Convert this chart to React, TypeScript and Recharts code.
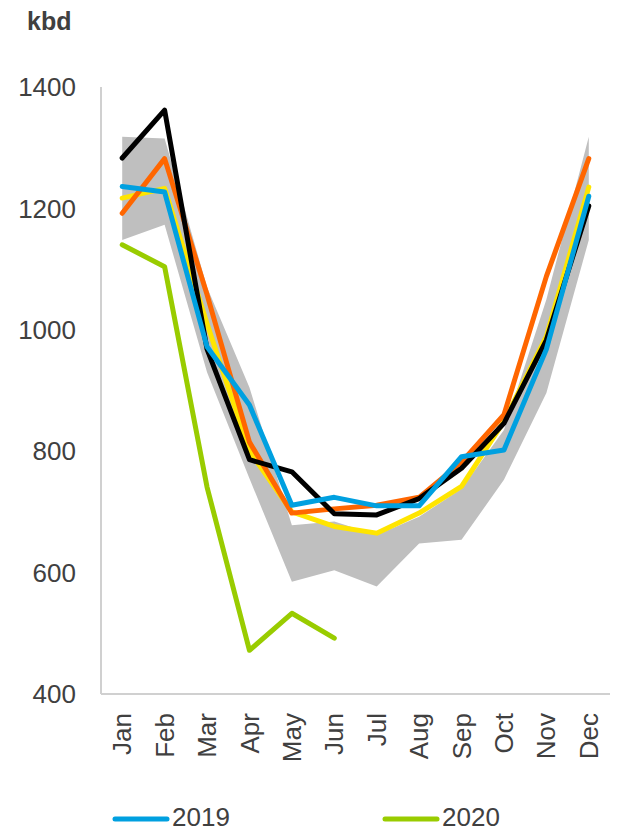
import React from "react";
import { ComposedChart, Area, Line, XAxis, YAxis } from "recharts";

const months = ["Jan", "Feb", "Mar", "Apr", "May", "Jun", "Jul", "Aug", "Sep", "Oct", "Nov", "Dec"];

// 5-year range (grey band)
const rangeLow = [1148, 1173, 930, 755, 585, 604, 577, 648, 654, 753, 896, 1148];
const rangeHigh = [1318, 1315, 1070, 905, 678, 684, 662, 692, 738, 835, 1050, 1318];

const y2016 = [1217, 1233, 1010, 800, 700, 676, 665, 698, 742, 849, 989, 1235];
const y2017 = [1192, 1282, 1058, 815, 698, 705, 711, 724, 782, 860, 1088, 1282];
const y2018 = [1283, 1362, 968, 786, 766, 697, 695, 722, 772, 846, 983, 1204];
const y2019 = [1236, 1227, 972, 876, 711, 724, 710, 710, 791, 802, 968, 1220];
const y2020 = [1140, 1104, 741, 472, 533, 492];

const yTicks = [400, 600, 800, 1000, 1200, 1400];
const legendLabels = ["2019", "2020"];

const C = {
  range: "#bfbfbf",
  y2016: "#ffe500",
  y2017: "#ff6600",
  y2018: "#000000",
  y2019: "#00a0e0",
  y2020: "#99cc00",
  axis: "#d0d0d0",
  text: "#404040",
};

const FONT = "'Liberation Sans', Arial, sans-serif";

const data = months.map((m, i) => ({
  month: m,
  range: [rangeLow[i], rangeHigh[i]],
  y2016: y2016[i],
  y2017: y2017[i],
  y2018: y2018[i],
  y2019: y2019[i],
  y2020: y2020[i] ?? null,
}));

function MonthTick({ x, y, payload }: any) {
  return (
    <text
      x={x}
      y={y}
      dy="0.35em"
      transform={`rotate(-90, ${x}, ${y})`}
      textAnchor="end"
      fontSize={26}
      fill={C.text}
      fontFamily={FONT}
    >
      {payload.value}
    </text>
  );
}

export default function App() {
  const lineProps = {
    type: "linear" as const,
    strokeWidth: 5,
    dot: false,
    activeDot: false,
    isAnimationActive: false,
    strokeLinejoin: "round" as const,
    strokeLinecap: "round" as const,
  };

  return (
    <div style={{ position: "absolute", left: 0, top: 0, width: 618, height: 833, background: "#fff" }}>
      <ComposedChart
        width={618}
        height={833}
        data={data}
        margin={{ top: 87, right: 8, bottom: 39, left: 0 }}
      >
        <XAxis
          dataKey="month"
          scale="band"
          axisLine={{ stroke: C.axis, strokeWidth: 2 }}
          tickLine={false}
          tickSize={0}
          tickMargin={19}
          interval={0}
          height={100}
          tick={<MonthTick />}
        />
        <YAxis
          domain={[400, 1400]}
          ticks={yTicks}
          axisLine={{ stroke: C.axis, strokeWidth: 2 }}
          tickLine={false}
          tickSize={0}
          tickMargin={25}
          width={101}
          tick={{ fontSize: 26, fill: C.text, fontFamily: FONT }}
        />
        <Area
          dataKey="range"
          fill={C.range}
          fillOpacity={1}
          stroke="none"
          isAnimationActive={false}
          activeDot={false}
        />
        <Line dataKey="y2016" stroke={C.y2016} {...lineProps} />
        <Line dataKey="y2017" stroke={C.y2017} {...lineProps} />
        <Line dataKey="y2018" stroke={C.y2018} {...lineProps} />
        <Line dataKey="y2019" stroke={C.y2019} {...lineProps} />
        <Line dataKey="y2020" stroke={C.y2020} {...lineProps} />
      </ComposedChart>

      <svg
        width={618}
        height={833}
        style={{ position: "absolute", left: 0, top: 0, pointerEvents: "none" }}
      >
        <text x={27} y={30} fontSize={25} fontWeight="bold" fill={C.text} fontFamily={FONT}>
          kbd
        </text>
        {legendLabels.map((label, i) => {
          const x0 = 115 + i * 270;
          const color = i === 0 ? C.y2019 : C.y2020;
          return (
            <g key={label}>
              <line x1={x0} y1={819} x2={x0 + 52} y2={819} stroke={color} strokeWidth={5} strokeLinecap="round" />
              <text x={x0 + 57} y={826} fontSize={26} fill={C.text} fontFamily={FONT}>
                {label}
              </text>
            </g>
          );
        })}
      </svg>
    </div>
  );
}
